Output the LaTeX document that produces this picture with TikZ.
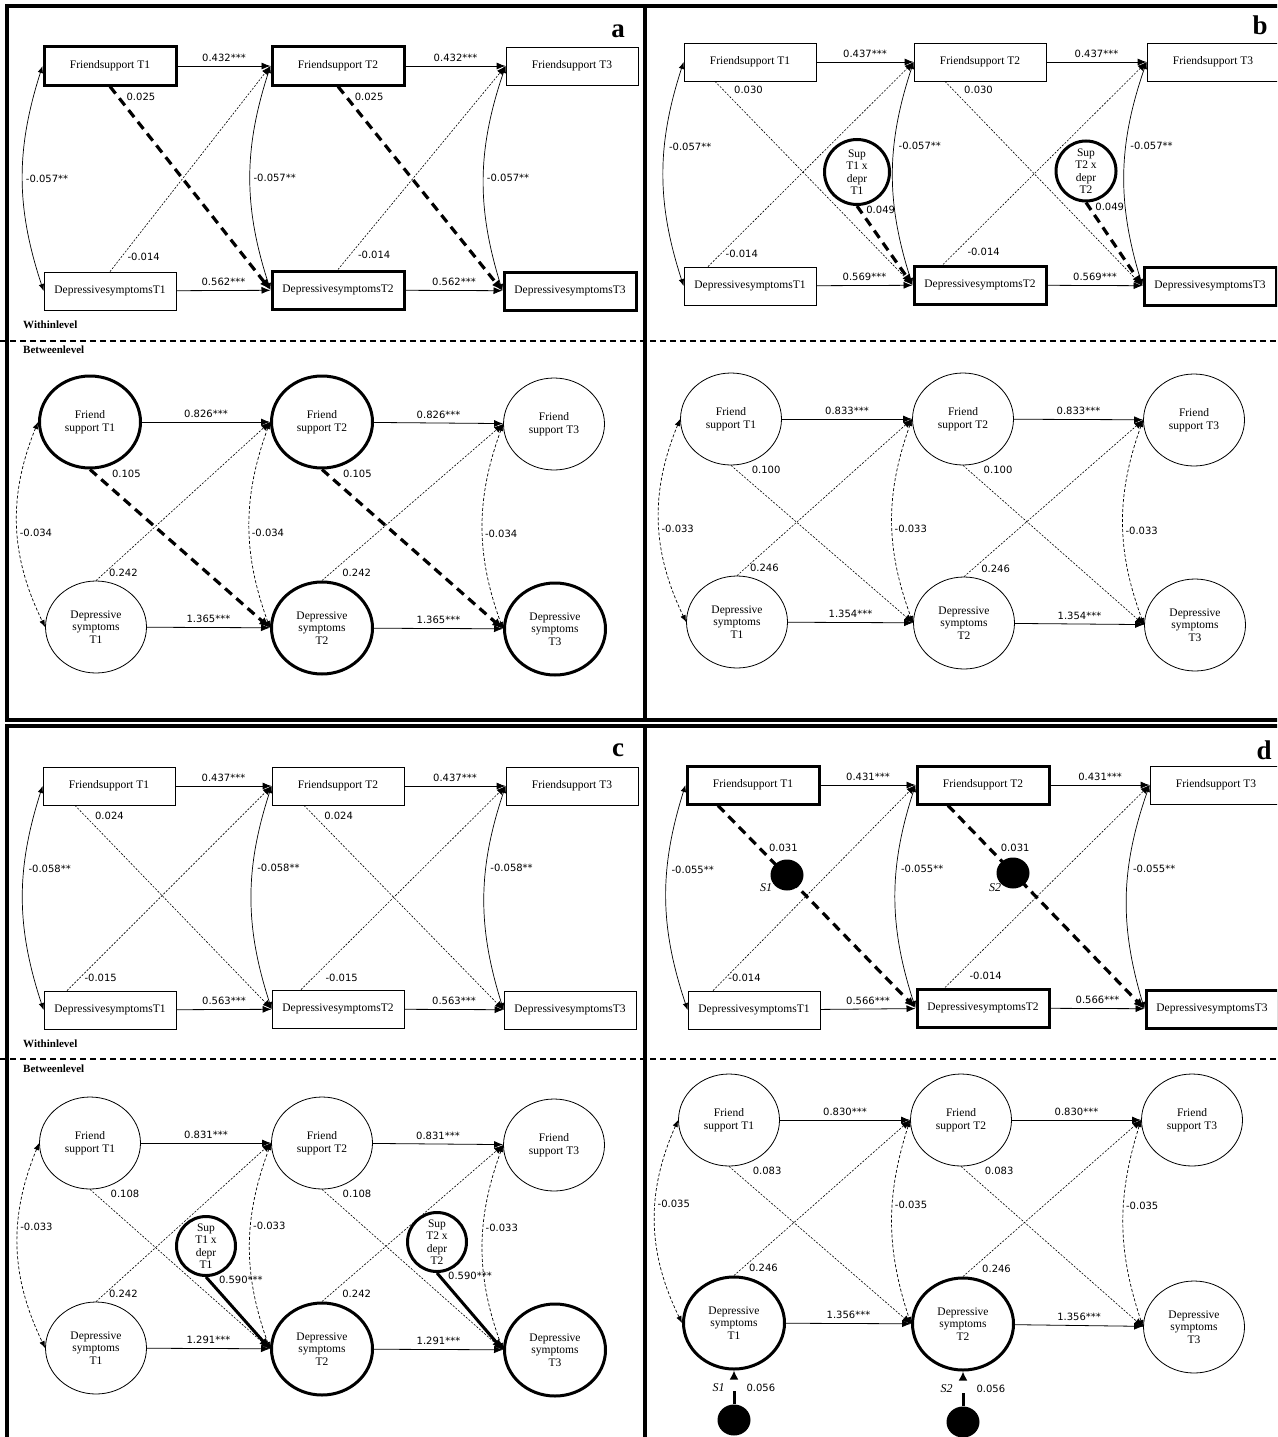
\documentclass[tikz,border=0pt]{standalone}
\usepackage{fontspec}
\setmainfont{Liberation Serif}
\newfontfamily\estfont{DejaVu Sans}
\usetikzlibrary{arrows.meta,shapes.geometric,positioning}

\tikzset{
  obs/.style={draw, line width=0.8pt, minimum width=132pt, minimum height=38pt, inner sep=0pt, font=\fontsize{11.5}{12}\selectfont},
  obsbold/.style={obs, line width=3pt},
  lat/.style={draw, ellipse, line width=0.8pt, minimum width=101pt, minimum height=92pt, inner sep=0pt, align=center, font=\fontsize{11.5}{12.5}\selectfont},
  latbold/.style={lat, line width=3pt},
  inter/.style={draw, circle, line width=3pt, minimum size=60pt, inner sep=0pt, align=center, font=\fontsize{11.5}{12.5}\selectfont},
  resid/.style={ellipse, fill=black, minimum width=33pt, minimum height=31pt, inner sep=0pt},
  reg/.style={-{Latex[length=9pt,width=7pt]}, line width=0.8pt},
  lagged/.style={reg, line width=0.6pt, dash pattern=on 2pt off 1.5pt},
  siglag/.style={-{Latex[length=11pt,width=9pt]}, line width=3.2pt, dash pattern=on 9pt off 6pt},
  supreg/.style={-{Latex[length=11pt,width=9pt]}, line width=3pt},
  residpath/.style={-{Latex[length=9pt,width=9pt]}, line width=3pt, dash pattern=on 13pt off 30pt},
  cov/.style={{Latex[length=7pt,width=5.5pt]}-{Latex[length=7pt,width=5.5pt]}, line width=0.7pt},
  bcov/.style={cov, dash pattern=on 3pt off 2pt},
  est/.style={font=\estfont\fontsize{10}{11}\selectfont, inner sep=1pt},
  sname/.style={font=\itshape\fontsize{12}{13}\selectfont, inner sep=0pt},
  level/.style={font=\bfseries\fontsize{11}{12}\selectfont, anchor=west, inner sep=0pt},
  paneltag/.style={font=\bfseries\fontsize{27}{30}\selectfont, inner sep=0pt},
  panelframe/.style={line width=3.5pt},
  levelsep/.style={line width=1.3pt, dash pattern=on 6pt off 4pt},
}

\begin{document}
\begin{tikzpicture}[x=1pt, y=-1pt]
  \useasboundingbox (0,0) rectangle (1277,1437);
  \clip (0,0) rectangle (1277,1437);

  % Panel frames
  \draw[panelframe] (7,6) rectangle (645,720);
  \draw[panelframe] (645,6) rectangle (1290,720);
  \draw[panelframe] (7,726) rectangle (645,1450);
  \draw[panelframe] (645,726) rectangle (1290,1450);

  % Within / between separators
  \draw[levelsep] (0,341) -- (1277,341);
  \draw[levelsep] (0,1059) -- (1277,1059);
  \node[level] (aWithin) at (23,325) {Withinlevel};
  \node[level] (aBetween) at (23,350) {Betweenlevel};
  \node[level] (cWithin) at (23,1044) {Withinlevel};
  \node[level] (cBetween) at (23,1069) {Betweenlevel};

  % Panel tags
  \node[paneltag] (tagA) at (618,31) {a};
  \node[paneltag] (tagB) at (1260,25) {b};
  \node[paneltag] (tagC) at (618,750) {c};
  \node[paneltag] (tagD) at (1264,750) {d};

  % ---------- Panel a, within level
  \node[obsbold] (aFw1) at (110,66) {Friendsupport T1};
  \node[obsbold] (aFw2) at (338,66) {Friendsupport T2};
  \node[obs] (aFw3) at (572,66) {Friendsupport T3};
  \node[obs] (aDw1) at (110,291) {DepressivesymptomsT1};
  \node[obsbold] (aDw2) at (338,290) {DepressivesymptomsT2};
  \node[obsbold] (aDw3) at (570,291) {DepressivesymptomsT3};
  \draw[reg] (aFw1) -- node[est, above=3pt] {0.432***} (aFw2);
  \draw[reg] (aFw2) -- node[est, above=3pt] {0.432***} (aFw3);
  \draw[reg] (aDw1) -- node[est, above=3pt] {0.562***} (aDw2);
  \draw[reg] (aDw2) -- node[est, above=3pt] {0.562***} (aDw3);
  \draw[siglag] (aFw1.south) -- node[est, pos=0.05, right=6pt] {0.025} (aDw2.west);
  \draw[siglag] (aFw2.south) -- node[est, pos=0.05, right=6pt] {0.025} (aDw3.west);
  \draw[lagged] (aDw1.north) -- node[est, pos=0.07, right=5pt] {-0.014} (aFw2.west);
  \draw[lagged] (aDw2.north) -- node[est, pos=0.07, right=7pt] {-0.014} (aFw3.west);
  \draw[cov] (aFw1.west) to[bend right=18] node[est, right=2pt] {-0.057**} (aDw1.west);
  \draw[cov] (aFw2.west) to[bend right=18] node[est, right=2pt] {-0.057**} (aDw2.west);
  \draw[cov] (aFw3.west) to[bend right=18] node[est, right=2pt] {-0.057**} (aDw3.west);

  % ---------- Panel a, between level
  \node[latbold] (aFb1) at (90,422) {Friend\\support T1};
  \node[latbold] (aFb2) at (322,422) {Friend\\support T2};
  \node[lat] (aFb3) at (554,424) {Friend\\support T3};
  \node[lat] (aDb1) at (96,627) {Depressive\\symptoms\\T1};
  \node[latbold] (aDb2) at (322,628) {Depressive\\symptoms\\T2};
  \node[latbold] (aDb3) at (555,629) {Depressive\\symptoms\\T3};
  \draw[reg] (aFb1) -- node[est, above=3pt] {0.826***} (aFb2);
  \draw[reg] (aFb2) -- node[est, above=3pt] {0.826***} (aFb3);
  \draw[reg] (aDb1) -- node[est, above=3pt] {1.365***} (aDb2);
  \draw[reg] (aDb2) -- node[est, above=3pt] {1.365***} (aDb3);
  \draw[siglag] (aFb1.south) -- node[est, pos=0.03, right=14pt] {0.105} (aDb2.west);
  \draw[siglag] (aFb2.south) -- node[est, pos=0.03, right=13pt] {0.105} (aDb3.west);
  \draw[lagged] (aDb1.north) -- node[est, pos=0.05, right=3pt] {0.242} (aFb2.west);
  \draw[lagged] (aDb2.north) -- node[est, pos=0.05, right=10pt] {0.242} (aFb3.west);
  \draw[bcov] (aFb1.west) to[bend right=24] node[est, pos=0.54, right=1pt] {-0.034} (aDb1.west);
  \draw[bcov] (aFb2.west) to[bend right=20] node[est, pos=0.54, right=1pt] {-0.034} (aDb2.west);
  \draw[bcov] (aFb3.west) to[bend right=20] node[est, pos=0.54, right=1pt] {-0.034} (aDb3.west);

  % ---------- Panel b, within level
  \node[obs] (bFw1) at (750,62) {Friendsupport T1};
  \node[obs] (bFw2) at (980,62) {Friendsupport T2};
  \node[obs] (bFw3) at (1213,62) {Friendsupport T3};
  \node[obs] (bDw1) at (750,286) {DepressivesymptomsT1};
  \node[obsbold] (bDw2) at (980,285) {DepressivesymptomsT2};
  \node[obsbold] (bDw3) at (1210,286) {DepressivesymptomsT3};
  \node[inter, minimum size=65pt] (bS1) at (857,172) {Sup\\T1 x\\depr\\T1};
  \node[inter] (bS2) at (1086,171) {Sup\\T2 x\\depr\\T2};
  \draw[reg] (bFw1) -- node[est, above=3pt] {0.437***} (bFw2);
  \draw[reg] (bFw2) -- node[est, above=3pt] {0.437***} (bFw3);
  \draw[reg] (bDw1) -- node[est, above=3pt] {0.569***} (bDw2);
  \draw[reg] (bDw2) -- node[est, above=3pt] {0.569***} (bDw3);
  \draw[lagged] ([xshift=-35pt]bFw1.south) -- node[est, pos=0.04, right=10pt] {0.030} (bDw2.west);
  \draw[lagged] ([xshift=-35pt]bFw2.south) -- node[est, pos=0.04, right=10pt] {0.030} (bDw3.west);
  \draw[lagged] ([xshift=-42pt]bDw1.north) -- node[est, pos=0.06, right=4pt] {-0.014} (bFw2.west);
  \draw[lagged] ([xshift=-37pt]bDw2.north) -- node[est, pos=0.06, right=11pt] {-0.014} (bFw3.west);
  \draw[cov] (bFw1.west) to[bend right=18] node[est, pos=0.37, right=3pt] {-0.057**} (bDw1.west);
  \draw[cov] (bFw2.west) to[bend right=18] node[est, pos=0.37, right=3pt] {-0.057**} (bDw2.west);
  \draw[cov] (bFw3.west) to[bend right=18] node[est, pos=0.37, right=3pt] {-0.057**} (bDw3.west);
  \draw[siglag] (bS1.south) -- node[est, pos=0.05, right=4pt] {0.049} (bDw2.west);
  \draw[siglag] (bS2.south) -- node[est, pos=0.05, right=4pt] {0.049} (bDw3.west);

  % ---------- Panel b, between level
  \node[lat] (bFb1) at (731,419) {Friend\\support T1};
  \node[lat] (bFb2) at (963,419) {Friend\\support T2};
  \node[lat] (bFb3) at (1194,420) {Friend\\support T3};
  \node[lat] (bDb1) at (737,622) {Depressive\\symptoms\\T1};
  \node[lat] (bDb2) at (964,623) {Depressive\\symptoms\\T2};
  \node[lat] (bDb3) at (1195,625) {Depressive\\symptoms\\T3};
  \draw[reg] (bFb1) -- node[est, above=3pt] {0.833***} (bFb2);
  \draw[reg] (bFb2) -- node[est, above=3pt] {0.833***} (bFb3);
  \draw[reg] (bDb1) -- node[est, above=3pt] {1.354***} (bDb2);
  \draw[reg] (bDb2) -- node[est, above=3pt] {1.354***} (bDb3);
  \draw[lagged] (bFb1.south) -- node[est, pos=0.03, right=14pt] {0.100} (bDb2.west);
  \draw[lagged] (bFb2.south) -- node[est, pos=0.03, right=14pt] {0.100} (bDb3.west);
  \draw[lagged] (bDb1.north) -- node[est, pos=0.05, right=3pt] {0.246} (bFb2.west);
  \draw[lagged] (bDb2.north) -- node[est, pos=0.05, right=7pt] {0.246} (bFb3.west);
  \draw[bcov] (bFb1.west) to[bend right=24] node[est, pos=0.54, right=1pt] {-0.033} (bDb1.west);
  \draw[bcov] (bFb2.west) to[bend right=20] node[est, pos=0.54, right=1pt] {-0.033} (bDb2.west);
  \draw[bcov] (bFb3.west) to[bend right=20] node[est, pos=0.54, right=1pt] {-0.033} (bDb3.west);

  % ---------- Panel c, within level
  \node[obs] (cFw1) at (109,786) {Friendsupport T1};
  \node[obs] (cFw2) at (338,786) {Friendsupport T2};
  \node[obs] (cFw3) at (572,786) {Friendsupport T3};
  \node[obs] (cDw1) at (110,1010) {DepressivesymptomsT1};
  \node[obs] (cDw2) at (338,1009) {DepressivesymptomsT2};
  \node[obs] (cDw3) at (570,1010) {DepressivesymptomsT3};
  \draw[reg] (cFw1) -- node[est, above=3pt] {0.437***} (cFw2);
  \draw[reg] (cFw2) -- node[est, above=3pt] {0.437***} (cFw3);
  \draw[reg] (cDw1) -- node[est, above=3pt] {0.563***} (cDw2);
  \draw[reg] (cDw2) -- node[est, above=3pt] {0.563***} (cDw3);
  \draw[lagged] ([xshift=-34pt]cFw1.south) -- node[est, pos=0.05, right=9pt] {0.024} (cDw2.west);
  \draw[lagged] ([xshift=-34pt]cFw2.south) -- node[est, pos=0.05, right=9pt] {0.024} (cDw3.west);
  \draw[lagged] ([xshift=-43pt]cDw1.north) -- node[est, pos=0.06, right=4pt] {-0.015} (cFw2.west);
  \draw[lagged] ([xshift=-37pt]cDw2.north) -- node[est, pos=0.06, right=11pt] {-0.015} (cFw3.west);
  \draw[cov] (cFw1.west) to[bend right=18] node[est, pos=0.36, right=3pt] {-0.058**} (cDw1.west);
  \draw[cov] (cFw2.west) to[bend right=18] node[est, pos=0.36, right=3pt] {-0.058**} (cDw2.west);
  \draw[cov] (cFw3.west) to[bend right=18] node[est, pos=0.36, right=3pt] {-0.058**} (cDw3.west);

  % ---------- Panel c, between level
  \node[lat] (cFb1) at (90,1143) {Friend\\support T1};
  \node[lat] (cFb2) at (322,1143) {Friend\\support T2};
  \node[lat] (cFb3) at (554,1145) {Friend\\support T3};
  \node[lat] (cDb1) at (96,1348) {Depressive\\symptoms\\T1};
  \node[latbold] (cDb2) at (322,1349) {Depressive\\symptoms\\T2};
  \node[latbold] (cDb3) at (555,1350) {Depressive\\symptoms\\T3};
  \node[inter, minimum size=59pt] (cS1) at (206,1246) {Sup\\T1 x\\depr\\T1};
  \node[inter, minimum size=59pt] (cS2) at (437,1242) {Sup\\T2 x\\depr\\T2};
  \draw[reg] (cFb1) -- node[est, above=3pt] {0.831***} (cFb2);
  \draw[reg] (cFb2) -- node[est, above=3pt] {0.831***} (cFb3);
  \draw[reg] (cDb1) -- node[est, above=3pt] {1.291***} (cDb2);
  \draw[reg] (cDb2) -- node[est, above=3pt] {1.291***} (cDb3);
  \draw[lagged] (cFb1.south) -- node[est, pos=0.03, right=14pt] {0.108} (cDb2.west);
  \draw[lagged] (cFb2.south) -- node[est, pos=0.03, right=14pt] {0.108} (cDb3.west);
  \draw[lagged] (cDb1.north) -- node[est, pos=0.05, right=3pt] {0.242} (cFb2.west);
  \draw[lagged] (cDb2.north) -- node[est, pos=0.05, right=10pt] {0.242} (cFb3.west);
  \draw[bcov] (cFb1.west) to[bend right=24] node[est, pos=0.4, right=1pt] {-0.033} (cDb1.west);
  \draw[bcov] (cFb2.west) to[bend right=20] node[est, pos=0.4, right=1pt] {-0.033} (cDb2.west);
  \draw[bcov] (cFb3.west) to[bend right=20] node[est, pos=0.4, right=1pt] {-0.033} (cDb3.west);
  \draw[supreg] (cS1.south) -- node[est, pos=0.04, right=8pt] {0.590***} (cDb2.west);
  \draw[supreg] (cS2.south) -- node[est, pos=0.04, right=6pt] {0.590***} (cDb3.west);

  % ---------- Panel d, within level
  \node[obsbold] (dFw1) at (753,785) {Friendsupport T1};
  \node[obsbold] (dFw2) at (983,785) {Friendsupport T2};
  \node[obs] (dFw3) at (1216,785) {Friendsupport T3};
  \node[obs] (dDw1) at (754,1010) {DepressivesymptomsT1};
  \node[obsbold] (dDw2) at (983,1008) {DepressivesymptomsT2};
  \node[obsbold] (dDw3) at (1212,1009) {DepressivesymptomsT3};
  \draw[reg] (dFw1) -- node[est, above=3pt] {0.431***} (dFw2);
  \draw[reg] (dFw2) -- node[est, above=3pt] {0.431***} (dFw3);
  \draw[reg] (dDw1) -- node[est, above=3pt] {0.566***} (dDw2);
  \draw[reg] (dDw2) -- node[est, above=3pt] {0.566***} (dDw3);
  \draw[siglag] ([xshift=-35pt]dFw1.south) -- node[est, pos=0.21, right=7pt] {0.031} (dDw2.west);
  \draw[siglag] ([xshift=-35pt]dFw2.south) -- node[est, pos=0.21, right=9pt] {0.031} (dDw3.west);
  \draw[lagged] ([xshift=-41pt]dDw1.north) -- node[est, pos=0.06, right=2pt] {-0.014} (dFw2.west);
  \draw[lagged] ([xshift=-38pt]dDw2.north) -- node[est, pos=0.06, right=11pt] {-0.014} (dFw3.west);
  \draw[cov] (dFw1.west) to[bend right=18] node[est, pos=0.37, right=3pt] {-0.055**} (dDw1.west);
  \draw[cov] (dFw2.west) to[bend right=18] node[est, pos=0.37, right=3pt] {-0.055**} (dDw2.west);
  \draw[cov] (dFw3.west) to[bend right=18] node[est, pos=0.37, right=3pt] {-0.055**} (dDw3.west);
  \node[resid] (dR1) at (787,875) {};
  \node[resid] (dR2) at (1013,873) {};
  \node[sname] (dR1name) at (766,888) {S1};
  \node[sname] (dR2name) at (995,888) {S2};

  % ---------- Panel d, between level
  \node[lat] (dFb1) at (729,1120) {Friend\\support T1};
  \node[lat] (dFb2) at (961,1120) {Friend\\support T2};
  \node[lat] (dFb3) at (1192,1120) {Friend\\support T3};
  \node[latbold] (dDb1) at (734,1323) {Depressive\\symptoms\\T1};
  \node[latbold] (dDb2) at (963,1324) {Depressive\\symptoms\\T2};
  \node[lat] (dDb3) at (1194,1327) {Depressive\\symptoms\\T3};
  \draw[reg] (dFb1) -- node[est, above=3pt] {0.830***} (dFb2);
  \draw[reg] (dFb2) -- node[est, above=3pt] {0.830***} (dFb3);
  \draw[reg] (dDb1) -- node[est, above=3pt] {1.356***} (dDb2);
  \draw[reg] (dDb2) -- node[est, above=3pt] {1.356***} (dDb3);
  \draw[lagged] (dFb1.south) -- node[est, pos=0.03, right=17pt] {0.083} (dDb2.west);
  \draw[lagged] (dFb2.south) -- node[est, pos=0.03, right=17pt] {0.083} (dDb3.west);
  \draw[lagged] (dDb1.north) -- node[est, pos=0.05, right=5pt] {0.246} (dFb2.west);
  \draw[lagged] (dDb2.north) -- node[est, pos=0.05, right=9pt] {0.246} (dFb3.west);
  \draw[bcov] (dFb1.west) to[bend right=25] node[est, pos=0.41, right=1pt] {-0.035} (dDb1.west);
  \draw[bcov] (dFb2.west) to[bend right=18] node[est, pos=0.41, right=1pt] {-0.035} (dDb2.west);
  \draw[bcov] (dFb3.west) to[bend right=18] node[est, pos=0.41, right=1pt] {-0.035} (dDb3.west);
  \node[resid] (dQ1) at (734,1420) {};
  \node[resid] (dQ2) at (963,1422) {};
  \draw[residpath] (dQ1) -- node[sname, midway, left=8pt] {S1} node[est, midway, right=10pt] {0.056} (dDb1);
  \draw[residpath] (dQ2) -- node[sname, midway, left=9pt] {S2} node[est, midway, right=11pt] {0.056} (dDb2);
\end{tikzpicture}
\end{document}
